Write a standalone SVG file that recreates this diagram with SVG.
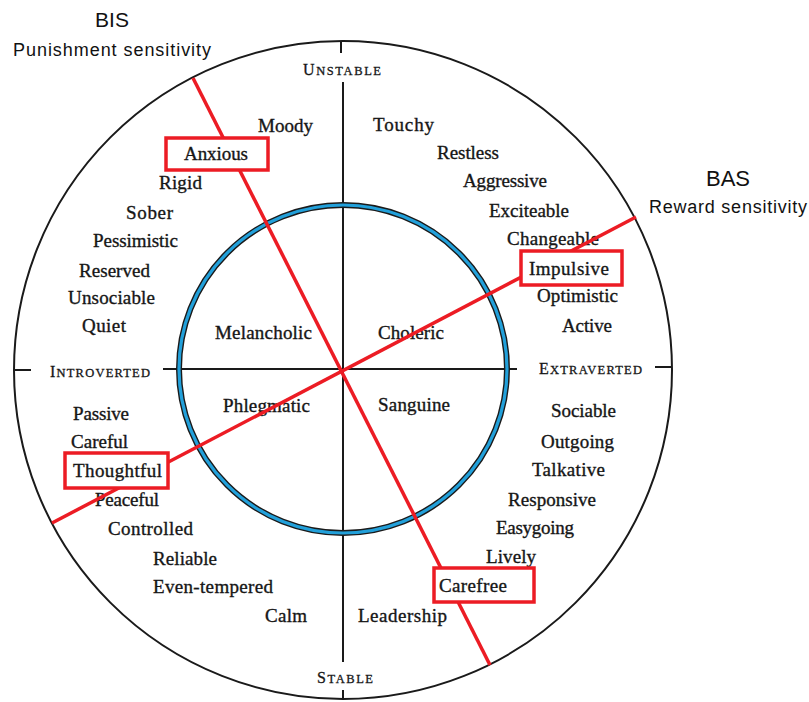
<svg xmlns="http://www.w3.org/2000/svg" width="809" height="702" viewBox="0 0 809 702">
<style>
.w{font-family:"Liberation Serif","Times New Roman",serif;font-size:19px;fill:#161616;stroke:#161616;stroke-width:0.35}
.ax{font-family:"Liberation Serif","Times New Roman",serif;font-size:16px;fill:#161616;stroke:#161616;stroke-width:0.3}
.sc{font-size:12.5px}
.hd{font-family:"Liberation Sans",Arial,sans-serif;fill:#111}
.ln{stroke:#1a1a1a;stroke-width:2;fill:none}
.red{stroke:#ec1c24;stroke-width:3.5;fill:none}
.box{stroke:#ec1c24;stroke-width:3.5;fill:#fff}
</style>
<rect width="809" height="702" fill="#fff"/>
<g id="frame">
<circle cx="343" cy="370" r="329" class="ln"/>
<line x1="341" y1="41" x2="341" y2="53" class="ln"/>
<line x1="343" y1="82" x2="343" y2="662" class="ln"/>
<line x1="343" y1="690" x2="343" y2="700" class="ln"/>
<line x1="15" y1="370" x2="31" y2="370" class="ln"/>
<line x1="163" y1="369" x2="517" y2="369" class="ln"/>
<line x1="655" y1="367" x2="672" y2="367" class="ln"/>
<circle cx="343" cy="369" r="164" fill="none" stroke="#1a1a1a" stroke-width="6"/>
<circle cx="343" cy="369" r="164" fill="none" stroke="#22a0da" stroke-width="3.2"/>
</g>
<g id="labels">
<g id="bis"><text class="hd" x="95" y="27" font-size="21" textLength="34">BIS</text>
<text class="hd" x="13" y="56" font-size="18" textLength="198">Punishment sensitivity</text></g>
<g id="bas"><text class="hd" x="706" y="186" font-size="22" textLength="44">BAS</text>
<text class="hd" x="649" y="213" font-size="18" textLength="158">Reward sensitivity</text></g>
<g id="unstable"><text class="ax" x="303" y="75" textLength="78">U<tspan class="sc">NSTABLE</tspan></text></g>
<g id="stable"><text class="ax" x="317" y="683" textLength="56">S<tspan class="sc">TABLE</tspan></text></g>
<g id="introverted"><text class="ax" x="50" y="377" textLength="100">I<tspan class="sc">NTROVERTED</tspan></text></g>
<g id="extraverted"><text class="ax" x="539" y="374" textLength="103">E<tspan class="sc">XTRAVERTED</tspan></text></g>
</g>
<g id="words">
<g id="moody"><text class="w" x="258" y="132" textLength="55">Moody</text></g>
<g id="rigid"><text class="w" x="159" y="189" textLength="43">Rigid</text></g>
<g id="sober"><text class="w" x="126" y="219" textLength="47">Sober</text></g>
<g id="pessimistic"><text class="w" x="93" y="247" textLength="85">Pessimistic</text></g>
<g id="reserved"><text class="w" x="79" y="277" textLength="71">Reserved</text></g>
<g id="unsociable"><text class="w" x="68" y="304" textLength="87">Unsociable</text></g>
<g id="quiet"><text class="w" x="82" y="332" textLength="44">Quiet</text></g>
<g id="melancholic"><text class="w" x="215" y="339" textLength="97">Melancholic</text></g>
<g id="touchy"><text class="w" x="373" y="131" textLength="61">Touchy</text></g>
<g id="restless"><text class="w" x="437" y="159" textLength="62">Restless</text></g>
<g id="aggressive"><text class="w" x="463" y="187" textLength="84">Aggressive</text></g>
<g id="exciteable"><text class="w" x="489" y="217" textLength="80">Exciteable</text></g>
<g id="changeable"><text class="w" x="507" y="245" textLength="92">Changeable</text></g>
<g id="optimistic"><text class="w" x="537" y="302" textLength="81">Optimistic</text></g>
<g id="active"><text class="w" x="562" y="332" textLength="50">Active</text></g>
<g id="choleric"><text class="w" x="378" y="339" textLength="66">Choleric</text></g>
<g id="phlegmatic"><text class="w" x="223" y="412" textLength="87">Phlegmatic</text></g>
<g id="passive"><text class="w" x="73" y="420" textLength="56">Passive</text></g>
<g id="careful"><text class="w" x="71" y="448" textLength="57">Careful</text></g>
<g id="peaceful"><text class="w" x="95" y="506" textLength="64">Peaceful</text></g>
<g id="controlled"><text class="w" x="108" y="535" textLength="85">Controlled</text></g>
<g id="reliable"><text class="w" x="153" y="565" textLength="64">Reliable</text></g>
<g id="even-tempered"><text class="w" x="153" y="593" textLength="120">Even-tempered</text></g>
<g id="calm"><text class="w" x="265" y="622" textLength="42">Calm</text></g>
<g id="sanguine"><text class="w" x="378" y="411" textLength="72">Sanguine</text></g>
<g id="sociable"><text class="w" x="551" y="417" textLength="65">Sociable</text></g>
<g id="outgoing"><text class="w" x="541" y="448" textLength="73">Outgoing</text></g>
<g id="talkative"><text class="w" x="532" y="476" textLength="73">Talkative</text></g>
<g id="responsive"><text class="w" x="508" y="506" textLength="88">Responsive</text></g>
<g id="easygoing"><text class="w" x="496" y="534" textLength="78">Easygoing</text></g>
<g id="lively"><text class="w" x="486" y="563" textLength="50">Lively</text></g>
<g id="leadership"><text class="w" x="358" y="622" textLength="89">Leadership</text></g>
</g>
<g id="connectors">
<line x1="193" y1="78" x2="490" y2="665" class="red"/>
<line x1="52" y1="523" x2="636" y2="217" class="red"/>
</g>
<g id="anxious"><rect x="166" y="138" width="102" height="32" class="box"/><text class="w" x="184" y="160" textLength="64">Anxious</text></g>
<g id="impulsive"><rect x="521" y="251" width="101" height="34" class="box"/><text class="w" x="529" y="275" textLength="80">Impulsive</text></g>
<g id="thoughtful"><rect x="65" y="453" width="103" height="35" class="box"/><text class="w" x="73" y="477" textLength="89">Thoughtful</text></g>
<g id="carefree"><rect x="434" y="568" width="100" height="34" class="box"/><text class="w" x="439" y="592" textLength="68">Carefree</text></g>
</svg>
